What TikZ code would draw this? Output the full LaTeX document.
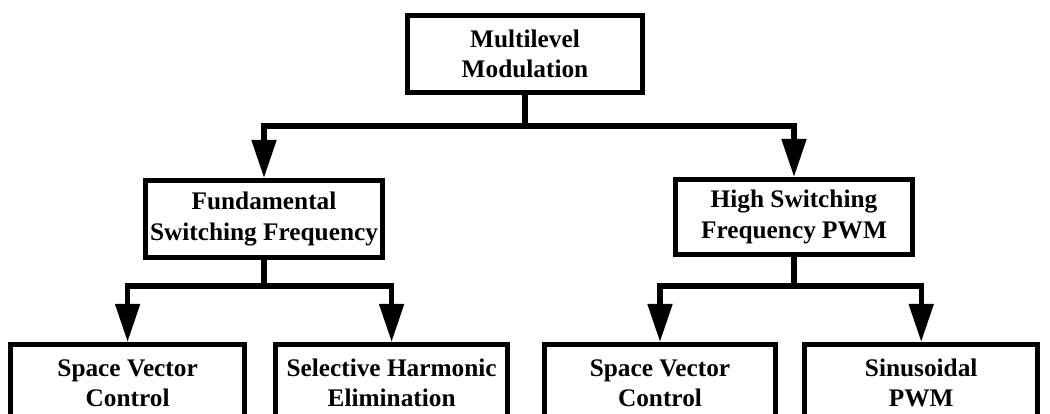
\documentclass[tikz,border=0pt]{standalone}
\usepackage{fontspec}
\setmainfont{Liberation Serif}
\usetikzlibrary{arrows.meta}
\begin{document}
\begin{tikzpicture}[
		every node/.style={align=center, draw, rectangle, line width=3.6pt, inner sep=1pt, minimum height=1.93cm, font=\fontsize{18}{21.5}\selectfont\bfseries},
		line/.style={line width=3.6pt},
		arrow/.style={line width=3.6pt, -{Triangle[length=0.95cm, width=0.6cm]}},
	]
	\useasboundingbox (0, 0) rectangle (26.25, -10.325);

	\node[minimum width=5.875cm] (mm) at (13.125, -1.35) {Multilevel\\Modulation};
	\node[minimum width=5.925cm] (fund) at (6.6, -5.475) {Fundamental\\Switching Frequency};
	\node[minimum width=5.925cm, minimum height=1.88cm] (hsf) at (19.85, -5.425) {High Switching\\Frequency PWM};
	\node[minimum width=5.85cm] (svc1) at (3.19, -9.575) {Space Vector\\Control};
	\node[minimum width=5.8cm] (she) at (9.79, -9.575) {Selective Harmonic\\Elimination};
	\node[minimum width=5.78cm] (svc2) at (16.5, -9.575) {Space Vector\\Control};
	\node[minimum width=5.83cm] (sin) at (23.03, -9.575) {Sinusoidal\\PWM};

	\coordinate (j1) at (13.125, -3.15);
	\coordinate (j2) at (6.6, -7.15);
	\coordinate (j3) at (19.85, -7.15);

	\draw[line] (mm) -- (j1);
	\draw[arrow] (j1) -| (fund);
	\draw[arrow] (j1) -| (hsf);

	\draw[line] (fund) -- (j2);
	\draw[arrow] (j2) -| (svc1);
	\draw[arrow] (j2) -| (she);

	\draw[line] (hsf) -- (j3);
	\draw[arrow] (j3) -| (svc2);
	\draw[arrow] (j3) -| (sin);
\end{tikzpicture}
\end{document}
